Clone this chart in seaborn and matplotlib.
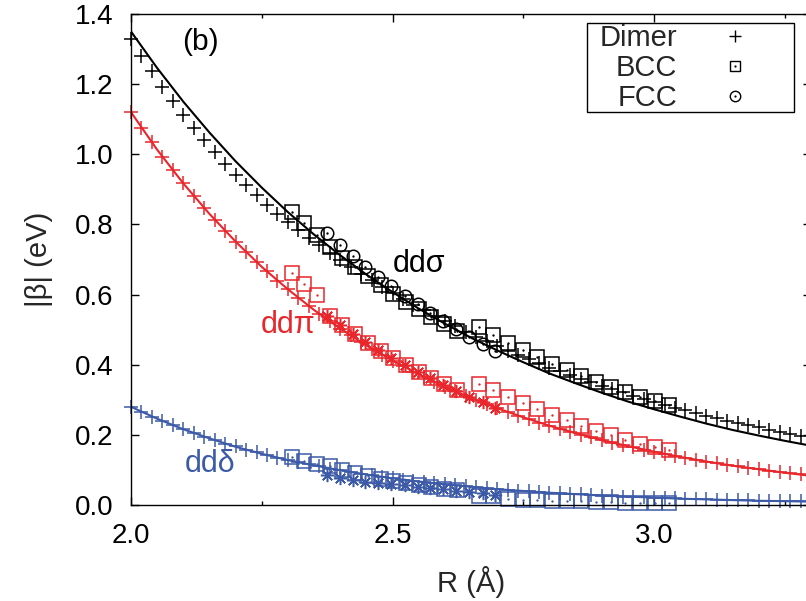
import matplotlib
matplotlib.use("Agg")
import matplotlib.pyplot as plt
import seaborn as sns
import pandas as pd
from matplotlib.ticker import MultipleLocator, FormatStrFormatter
from matplotlib.patches import Rectangle
from matplotlib.lines import Line2D

# ---------------- data ----------------
fit_R = [2.00, 2.05, 2.10, 2.15, 2.20, 2.25, 2.30, 2.35, 2.40, 2.45, 2.50, 2.55, 2.60, 2.65,
         2.70, 2.75, 2.80, 2.85, 2.90, 2.95, 3.00, 3.05, 3.10, 3.15, 3.20, 3.25, 3.30]
fit_sigma = [1.350, 1.246, 1.150, 1.062, 0.980, 0.905, 0.835, 0.771, 0.712, 0.657, 0.607, 0.560,
             0.517, 0.477, 0.441, 0.407, 0.375, 0.347, 0.320, 0.295, 0.273, 0.252, 0.232, 0.214,
             0.198, 0.183, 0.169]
fit_pi = [1.120, 1.013, 0.917, 0.830, 0.751, 0.679, 0.615, 0.556, 0.503, 0.455, 0.412, 0.373,
          0.337, 0.305, 0.276, 0.250, 0.226, 0.205, 0.185, 0.168, 0.152, 0.137, 0.124, 0.112,
          0.102, 0.092, 0.083]
fit_delta = [0.280, 0.246, 0.216, 0.190, 0.166, 0.146, 0.128, 0.113, 0.099, 0.087, 0.076, 0.067,
             0.059, 0.052, 0.045, 0.040, 0.035, 0.031, 0.027, 0.024, 0.021, 0.018, 0.016, 0.014,
             0.012, 0.011, 0.0095]

dimer_R = [2.00, 2.02, 2.04, 2.06, 2.08, 2.10, 2.12, 2.14, 2.16, 2.18,
           2.20, 2.22, 2.24, 2.26, 2.28, 2.30, 2.32, 2.34, 2.36, 2.38,
           2.40, 2.42, 2.44, 2.46, 2.48, 2.50, 2.52, 2.54, 2.56, 2.58,
           2.60, 2.62, 2.64, 2.66, 2.68, 2.70, 2.72, 2.74, 2.76, 2.78,
           2.80, 2.82, 2.84, 2.86, 2.88, 2.90, 2.92, 2.94, 2.96, 2.98,
           3.00, 3.02, 3.04, 3.06, 3.08, 3.10, 3.12, 3.14, 3.16, 3.18,
           3.20, 3.22, 3.24, 3.26, 3.28]
dimer_sigma = [1.328, 1.280, 1.238, 1.193, 1.153, 1.112, 1.074, 1.040, 1.006, 0.973,
               0.942, 0.912, 0.883, 0.856, 0.830, 0.806, 0.784, 0.761, 0.740, 0.719,
               0.698, 0.678, 0.659, 0.641, 0.622, 0.605, 0.588, 0.571, 0.555, 0.539,
               0.524, 0.509, 0.494, 0.480, 0.467, 0.453, 0.440, 0.428, 0.416, 0.404,
               0.392, 0.381, 0.370, 0.360, 0.350, 0.340, 0.330, 0.321, 0.312, 0.303,
               0.294, 0.286, 0.278, 0.270, 0.262, 0.255, 0.247, 0.240, 0.234, 0.227,
               0.221, 0.214, 0.208, 0.202, 0.197]
dimer_pi = [1.120, 1.076, 1.034, 0.993, 0.954, 0.917, 0.881, 0.847, 0.813, 0.781,
            0.751, 0.721, 0.693, 0.666, 0.640, 0.615, 0.591, 0.567, 0.545, 0.524,
            0.503, 0.484, 0.465, 0.446, 0.429, 0.412, 0.396, 0.380, 0.366, 0.351,
            0.337, 0.324, 0.311, 0.299, 0.288, 0.276, 0.265, 0.255, 0.245, 0.235,
            0.226, 0.217, 0.209, 0.201, 0.193, 0.185, 0.178, 0.171, 0.164, 0.158,
            0.152, 0.146, 0.140, 0.135, 0.129, 0.124, 0.119, 0.115, 0.110, 0.106,
            0.102, 0.098, 0.094, 0.090, 0.087]
dimer_delta = [0.280, 0.266, 0.252, 0.240, 0.227, 0.216, 0.205, 0.195, 0.185, 0.175,
               0.167, 0.158, 0.150, 0.142, 0.135, 0.128, 0.122, 0.116, 0.110, 0.104,
               0.099, 0.094, 0.089, 0.085, 0.080, 0.076, 0.072, 0.069, 0.065, 0.062,
               0.059, 0.056, 0.053, 0.050, 0.048, 0.045, 0.043, 0.041, 0.039, 0.037,
               0.035, 0.033, 0.032, 0.030, 0.028, 0.027, 0.026, 0.024, 0.023, 0.022,
               0.021, 0.020, 0.019, 0.018, 0.017, 0.016, 0.015, 0.014, 0.014, 0.013,
               0.012, 0.012, 0.011, 0.011, 0.010]

bcc_R = [2.307, 2.331, 2.356, 2.380, 2.404, 2.429, 2.453, 2.477, 2.501, 2.526, 2.550, 2.574, 2.599, 2.623,
         2.665, 2.693, 2.721, 2.749, 2.777, 2.805, 2.833, 2.861, 2.889, 2.917, 2.945, 2.973, 3.001, 3.029]
bcc_sigma = [0.836, 0.803, 0.770, 0.735, 0.705, 0.678, 0.652, 0.627, 0.603, 0.580, 0.558, 0.537, 0.517, 0.497,
             0.508, 0.485, 0.463, 0.441, 0.421, 0.402, 0.384, 0.368, 0.352, 0.337, 0.323, 0.309, 0.297, 0.285]
bcc_pi = [0.662, 0.630, 0.598, 0.540, 0.512, 0.487, 0.463, 0.440, 0.419, 0.399, 0.380, 0.362, 0.345, 0.328,
          0.345, 0.328, 0.309, 0.290, 0.273, 0.257, 0.242, 0.226, 0.212, 0.200, 0.186, 0.175, 0.166, 0.157]
bcc_delta = [0.136, 0.125, 0.118, 0.110, 0.100, 0.090, 0.082, 0.075, 0.068, 0.062, 0.056, 0.051, 0.046, 0.042,
             0.026, 0.025, 0.018, 0.015, 0.013, 0.012, 0.011, 0.010, 0.009, 0.008, 0.007, 0.006, 0.006, 0.005]

fcc_R = [2.374, 2.399, 2.424, 2.448, 2.473, 2.498, 2.523, 2.548, 2.572, 2.597, 2.622, 2.647, 2.672, 2.696]
fcc_sigma = [0.775, 0.742, 0.710, 0.680, 0.651, 0.624, 0.597, 0.572, 0.547, 0.524, 0.502, 0.480, 0.460, 0.440]
fcc_pi = [0.540, 0.514, 0.489, 0.465, 0.442, 0.420, 0.399, 0.379, 0.361, 0.343, 0.326, 0.309, 0.294, 0.278]
fcc_delta = [0.086, 0.076, 0.071, 0.066, 0.062, 0.059, 0.056, 0.052, 0.048, 0.045, 0.041, 0.038, 0.033, 0.029]

legend_labels = ["Dimer", "BCC", "FCC"]
curve_labels = ["ddσ", "ddπ", "ddδ"]

# ---------------- style ----------------
sns.set_theme(style="ticks")
plt.rcParams["font.family"] = ["Liberation Sans", "DejaVu Sans"]
plt.rcParams["axes.linewidth"] = 1.0

BLACK = "#000000"
RED = "#e8262b"
BLUE = "#3c5aa8"

fig = plt.figure(figsize=(8.06, 6.01), dpi=100)
W, H = 806, 601
ax = fig.add_axes([131 / W, 1 - 505 / H, 680 / W, 491 / H])

MS_PLUS = 9.5
MS_SQ = 9.5
MS_CIRC = 9.0
MS_AST = 9.5
MEW = 1.1


def markers(x, y, color, marker, ms):
    sns.lineplot(x=x, y=y, ax=ax, color=color, linestyle="none", marker=marker,
                 markersize=ms, markeredgewidth=MEW, markeredgecolor=color,
                 markerfacecolor="none", estimator=None, sort=False, clip_on=False,
                 legend=False)


def dots(x, y, color):
    sns.lineplot(x=x, y=y, ax=ax, color=color, linestyle="none", marker="o",
                 markersize=1.7, markeredgewidth=0, markerfacecolor=color,
                 estimator=None, sort=False, clip_on=False, legend=False)


series = [
    (BLACK, fit_sigma, dimer_sigma, bcc_sigma, fcc_sigma, "circle"),
    (RED, fit_pi, dimer_pi, bcc_pi, fcc_pi, "asterisk"),
    (BLUE, fit_delta, dimer_delta, bcc_delta, fcc_delta, "asterisk"),
]

for color, fit_y, dim_y, bcc_y, fcc_y, fcc_kind in series:
    markers(dimer_R, dim_y, color, "+", MS_PLUS)
    markers(bcc_R, bcc_y, color, "s", MS_SQ)
    dots(bcc_R, bcc_y, color)
    if fcc_kind == "circle":
        markers(fcc_R, fcc_y, color, "o", MS_CIRC)
        dots(fcc_R, fcc_y, color)
    else:
        markers(fcc_R, fcc_y, color, (8, 2, 0), MS_AST)
    sns.lineplot(x=fit_R, y=fit_y, ax=ax, color=color, linewidth=1.5,
                 estimator=None, sort=False, legend=False)

ax.set_xlim(2.0, 3.3)
ax.set_ylim(0.0, 1.4)
ax.xaxis.set_major_locator(MultipleLocator(0.5))
ax.xaxis.set_minor_locator(MultipleLocator(0.25))
ax.yaxis.set_major_locator(MultipleLocator(0.2))
ax.xaxis.set_major_formatter(FormatStrFormatter("%.1f"))
ax.yaxis.set_major_formatter(FormatStrFormatter("%.1f"))
ax.tick_params(which="both", direction="in", top=True, right=True, width=1.0, colors="black")
ax.tick_params(which="major", length=5.5)
ax.tick_params(which="minor", length=3)
ax.tick_params(axis="x", which="major", pad=13, labelsize=20)
ax.tick_params(axis="y", which="major", pad=12.5, labelsize=20)
for s in ax.spines.values():
    s.set_color("black")
    s.set_linewidth(1.0)

ax.set_xlabel("R (Å)", fontsize=21)
ax.set_ylabel("|β| (eV)", fontsize=21)
ax.xaxis.set_label_coords(0.5, -0.124)
ax.yaxis.set_label_coords(-0.115, 0.5)

ax.text(2.132, 1.32, "(b)", fontsize=21.5, ha="center", va="center", color=BLACK)
ax.text(2.501, 0.664, curve_labels[0], fontsize=22, ha="left", va="baseline", color=BLACK)
ax.text(2.249, 0.490, curve_labels[1], fontsize=22, ha="left", va="baseline", color=RED)
ax.text(2.103, 0.095, curve_labels[2], fontsize=22, ha="left", va="baseline", color=BLUE)

# legend
h_dimer = Line2D([], [], ls="none", marker="+", ms=8.5, mew=1.0, color=BLACK)
h_bcc = (Line2D([], [], ls="none", marker="s", ms=7.5, mew=1.0, mec=BLACK, mfc="none"),
         Line2D([], [], ls="none", marker="o", ms=1.6, mew=0, mfc=BLACK))
h_fcc = (Line2D([], [], ls="none", marker="o", ms=7.5, mew=1.0, mec=BLACK, mfc="none"),
         Line2D([], [], ls="none", marker="o", ms=1.6, mew=0, mfc=BLACK))
leg = fig.legend([h_dimer, h_bcc, h_fcc], legend_labels, loc="upper right",
                 bbox_to_anchor=(783 / W, 1 - 24.5 / H), bbox_transform=fig.transFigure,
                 borderpad=0, borderaxespad=0, frameon=False, markerfirst=False,
                 handlelength=3.29, handletextpad=0.34, labelspacing=0.06,
                 fontsize=21, numpoints=1)
fig.add_artist(Rectangle((587 / W, 1 - 112 / H), (794 - 587) / W, (112 - 22.7) / H,
                         transform=fig.transFigure, fill=False, ec="black", lw=1.0))

fig.savefig("out.png", dpi=100)
